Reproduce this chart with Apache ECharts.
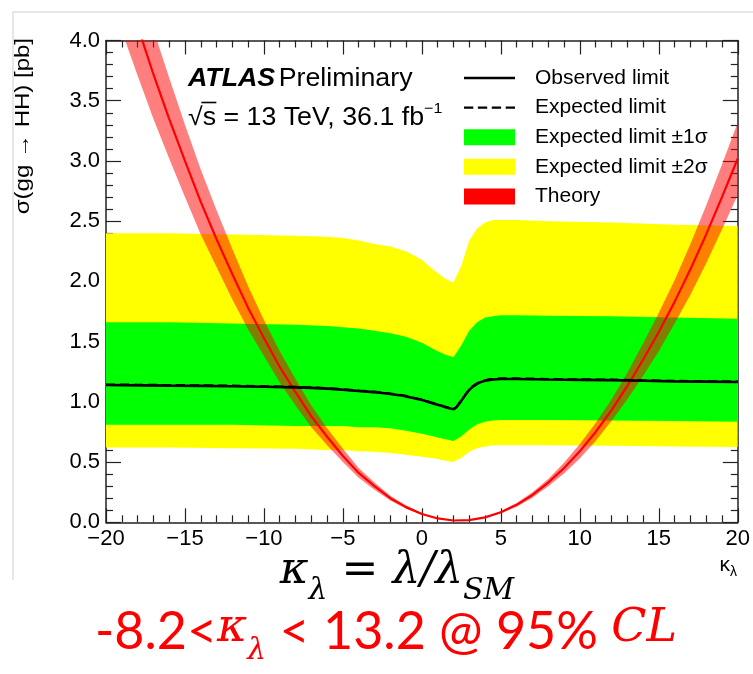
<!DOCTYPE html>
<html>
<head>
<meta charset="utf-8">
<script src="https://cdn.jsdelivr.net/npm/echarts@6/dist/echarts.min.js"></script>
<style>
  html, body { margin: 0; padding: 0; background: #ffffff; }
  #chart { width: 753px; height: 674px; }
</style>
</head>
<body>
<div id="chart"></div>
<script>
// kappa_lambda sampling points of the limit curves
const kappa = [-20, -16, -12, -8, -6, -5, -4, -3, -2, -1, 0, 0.5, 1, 1.5, 2, 2.5, 3, 3.5, 4, 4.5, 5, 6, 8, 12, 16, 20];
// 95% CL upper limits on sigma(gg -> HH) [pb]
const observed = [1.14, 1.135, 1.13, 1.12, 1.11, 1.10, 1.09, 1.08, 1.065, 1.045, 1.015, 0.995, 0.975, 0.955, 0.94, 1.01, 1.10, 1.15, 1.175, 1.185, 1.19, 1.19, 1.185, 1.18, 1.17, 1.165];
const expected = [1.145, 1.14, 1.135, 1.125, 1.115, 1.105, 1.095, 1.085, 1.07, 1.05, 1.02, 1.0, 0.98, 0.96, 0.945, 1.015, 1.105, 1.155, 1.18, 1.19, 1.195, 1.195, 1.19, 1.185, 1.175, 1.17];
const band1Up = [1.66, 1.66, 1.65, 1.64, 1.63, 1.62, 1.61, 1.59, 1.57, 1.54, 1.49, 1.455, 1.42, 1.39, 1.37, 1.47, 1.59, 1.66, 1.70, 1.71, 1.72, 1.72, 1.715, 1.71, 1.70, 1.69];
const band1Lo = [0.81, 0.81, 0.81, 0.80, 0.80, 0.80, 0.79, 0.79, 0.78, 0.76, 0.735, 0.72, 0.705, 0.69, 0.675, 0.715, 0.77, 0.815, 0.835, 0.845, 0.85, 0.85, 0.85, 0.845, 0.84, 0.835];
const band2Up = [2.40, 2.40, 2.39, 2.38, 2.37, 2.36, 2.34, 2.31, 2.29, 2.25, 2.18, 2.12, 2.07, 2.02, 1.99, 2.13, 2.34, 2.44, 2.49, 2.51, 2.51, 2.51, 2.50, 2.49, 2.47, 2.46];
const band2Lo = [0.62, 0.62, 0.615, 0.61, 0.60, 0.60, 0.59, 0.585, 0.575, 0.56, 0.545, 0.535, 0.525, 0.51, 0.50, 0.535, 0.585, 0.615, 0.63, 0.64, 0.64, 0.64, 0.64, 0.635, 0.63, 0.625];

// theory prediction of sigma(gg -> HH) vs kappa_lambda, with its uncertainty band
const theoryKappa = [-20, -19, -18, -17, -16, -15, -14, -13, -12, -11, -10, -9, -8, -7, -6, -5, -4, -3, -2, -1, 0, 1, 2, 3, 4, 5, 6, 7, 8, 9, 10, 11, 12, 13, 14, 15, 16, 17, 18, 19, 20];
const theory = [4.96, 4.53, 4.12, 3.72, 3.35, 3.00, 2.66, 2.35, 2.06, 1.78, 1.53, 1.29, 1.08, 0.88, 0.71, 0.55, 0.41, 0.30, 0.20, 0.126, 0.069, 0.032, 0.015, 0.018, 0.041, 0.083, 0.145, 0.227, 0.33, 0.45, 0.59, 0.75, 0.93, 1.13, 1.35, 1.58, 1.83, 2.10, 2.39, 2.70, 3.02];
const theoryLo = [4.46, 4.08, 3.71, 3.35, 3.02, 2.70, 2.39, 2.12, 1.85, 1.60, 1.38, 1.16, 0.97, 0.79, 0.64, 0.50, 0.37, 0.27, 0.18, 0.113, 0.062, 0.029, 0.0135, 0.016, 0.037, 0.075, 0.13, 0.204, 0.30, 0.405, 0.53, 0.675, 0.84, 1.02, 1.215, 1.42, 1.65, 1.89, 2.15, 2.43, 2.72];
const theoryHi = [5.46, 4.98, 4.53, 4.09, 3.69, 3.30, 2.93, 2.59, 2.27, 1.96, 1.68, 1.42, 1.19, 0.97, 0.78, 0.61, 0.45, 0.33, 0.22, 0.139, 0.076, 0.035, 0.0165, 0.020, 0.045, 0.091, 0.16, 0.25, 0.36, 0.495, 0.65, 0.825, 1.02, 1.24, 1.485, 1.74, 2.01, 2.31, 2.63, 2.97, 3.32];

const FONT = 'Liberation Sans';
const AXIS_COLOR = '#222';

const chart = echarts.init(document.getElementById('chart'), null, { renderer: 'canvas' });

function pairs(xs, ys) { return xs.map((x, i) => [x, ys[i]]); }

// filled band between two curves, clipped to the plot frame
function bandSeries(name, xs, lo, hi, color, z) {
  return {
    name: name,
    type: 'custom',
    coordinateSystem: 'cartesian2d',
    clip: true,
    z: z,
    itemStyle: { color: color },
    data: [[xs[0], lo[0]]],
    encode: { x: 0, y: 1 },
    silent: true,
    renderItem: function (params, api) {
      const pts = [];
      for (let i = 0; i < xs.length; i++) pts.push(api.coord([xs[i], hi[i]]));
      for (let i = xs.length - 1; i >= 0; i--) pts.push(api.coord([xs[i], lo[i]]));
      const cs = params.coordSys;
      return {
        type: 'polygon',
        shape: { points: pts },
        style: { fill: api.visual('color') },
        clipPath: { type: 'rect', shape: { x: cs.x, y: cs.y, width: cs.width, height: cs.height } }
      };
    }
  };
}

const tickCommon = {
  axisLine: { show: true, onZero: false, lineStyle: { color: AXIS_COLOR, width: 1.5 } },
  splitLine: { show: false },
  minorSplitLine: { show: false }
};

const xTicks = {
  axisTick: { show: true, inside: true, length: 14, lineStyle: { color: AXIS_COLOR, width: 1.2 } },
  minorTick: { show: true, splitNumber: 5, length: 7, lineStyle: { color: AXIS_COLOR, width: 1.2 } }
};
const yTicks = {
  axisTick: { show: true, inside: true, length: 15, lineStyle: { color: AXIS_COLOR, width: 1.2 } },
  minorTick: { show: true, splitNumber: 5, length: 7, lineStyle: { color: AXIS_COLOR, width: 1.2 } }
};

// legend glyphs: a solid and a dashed line segment
const SOLID_ICON = 'path://M0,0H51V2.6H0Z';
const DASH_ICON = 'path://M0,0H9.3V2.2H0Z M13.9,0H23.2V2.2H13.9Z M27.8,0H37.1V2.2H27.8Z M41.7,0H51V2.2H41.7Z';

const option = {
  animation: false,
  backgroundColor: '#ffffff',
  grid: { left: 106, right: 14.5, top: 40.5, bottom: 151.7, containLabel: false },
  xAxis: [
    Object.assign({
      type: 'value', min: -20, max: 20, interval: 5, position: 'bottom',
      axisLabel: {
        fontFamily: FONT, fontSize: 22, color: '#000', margin: 6,
        formatter: v => (v < 0 ? '\u2212' + (-v) : String(v))
      }
    }, tickCommon, xTicks),
    Object.assign({
      type: 'value', min: -20, max: 20, interval: 5, position: 'top',
      axisLabel: { show: false }
    }, tickCommon, xTicks)
  ],
  yAxis: [
    Object.assign({
      type: 'value', min: 0, max: 4, interval: 0.5, position: 'left',
      axisLabel: {
        fontFamily: FONT, fontSize: 22, color: '#000', margin: 6,
        formatter: v => v.toFixed(1)
      }
    }, tickCommon, yTicks),
    Object.assign({
      type: 'value', min: 0, max: 4, interval: 0.5, position: 'right',
      axisLabel: { show: false }
    }, tickCommon, yTicks)
  ],
  legend: {
    orient: 'vertical', left: 464, top: 67.5, padding: 0,
    itemWidth: 51, itemHeight: 16, itemGap: 8.6,
    selectedMode: false,
    textStyle: { fontFamily: FONT, fontSize: 21, color: '#000', padding: [0, 0, 0, 15] },
    data: [
      { name: 'Observed limit', icon: SOLID_ICON, itemStyle: { color: '#000' } },
      { name: 'Expected limit', icon: DASH_ICON, itemStyle: { color: '#000' } },
      { name: 'Expected limit \u00b11\u03c3', icon: 'rect' },
      { name: 'Expected limit \u00b12\u03c3', icon: 'rect' },
      { name: 'Theory', icon: 'rect', itemStyle: { color: '#ff0000', opacity: 1 } }
    ]
  },
  series: [
    bandSeries('Expected limit \u00b12\u03c3', kappa, band2Lo, band2Up, '#ffff00', 1),
    bandSeries('Expected limit \u00b11\u03c3', kappa, band1Lo, band1Up, '#00ff00', 2),
    bandSeries('Theory', theoryKappa, theoryLo, theoryHi, 'rgba(255,0,0,0.5)', 3),
    {
      name: 'Theory', type: 'line', z: 4, data: pairs(theoryKappa, theory),
      symbol: 'none', showSymbol: false, smooth: false, clip: true, silent: true,
      lineStyle: { color: '#ff0000', width: 2.2 }, itemStyle: { color: '#ff0000' }
    },
    {
      name: 'Expected limit', type: 'line', z: 5, data: pairs(kappa, expected),
      symbol: 'none', showSymbol: false, smooth: 0.3, clip: true, silent: true,
      lineStyle: { color: '#000', width: 2, type: [9, 5] }, itemStyle: { color: '#000' }
    },
    {
      name: 'Observed limit', type: 'line', z: 6, data: pairs(kappa, observed),
      symbol: 'none', showSymbol: false, smooth: 0.3, clip: true, silent: true,
      lineStyle: { color: '#000', width: 2.6 }, itemStyle: { color: '#000' }
    }
  ],
  graphic: [
    // thin frame of the figure panel
    { type: 'line', shape: { x1: 13, y1: 12, x2: 753, y2: 12 }, style: { stroke: '#cfcfcf', lineWidth: 1 }, silent: true },
    { type: 'line', shape: { x1: 13, y1: 12, x2: 13, y2: 580 }, style: { stroke: '#cfcfcf', lineWidth: 1 }, silent: true },
    // y axis title
    {
      type: 'text', x: 23, y: 38, rotation: Math.PI / 2, scaleX: 1.2, silent: true,
      style: { text: '\u03c3(gg \u2192 HH) [pb]', fontFamily: FONT, fontSize: 20, fill: '#000', align: 'right', verticalAlign: 'middle' }
    },
    // x axis title
    {
      type: 'text', x: 737, y: 567, silent: true,
      style: {
        text: '{m|\u03ba}{s|\u03bb}', align: 'right', verticalAlign: 'middle',
        rich: {
          m: { fontFamily: FONT, fontSize: 21, fill: '#000', lineHeight: 24, verticalAlign: 'top' },
          s: { fontFamily: FONT, fontSize: 14, fill: '#000', lineHeight: 24, verticalAlign: 'bottom' }
        }
      }
    },
    // experiment label
    {
      type: 'group', x: 188, y: 0, scaleX: 1.07, silent: true,
      children: [
        {
          type: 'text', x: 0, y: 79,
          style: {
            text: '{a|ATLAS} {b|Preliminary}', verticalAlign: 'middle',
            rich: {
              a: { fontFamily: FONT, fontSize: 25, fontWeight: 'bold', fontStyle: 'italic', fill: '#000' },
              b: { fontFamily: FONT, fontSize: 25, fill: '#000' }
            }
          }
        },
        {
          type: 'text', x: 0, y: 116,
          style: {
            text: '{b|\u221as = 13 TeV, 36.1 fb}{p|\u22121}', verticalAlign: 'middle',
            rich: {
              b: { fontFamily: FONT, fontSize: 25, fill: '#000', lineHeight: 30, verticalAlign: 'bottom' },
              p: { fontFamily: FONT, fontSize: 15, fill: '#000', lineHeight: 30, verticalAlign: 'top' }
            }
          }
        },
        // bar of the square-root sign
        { type: 'line', shape: { x1: 12.5, y1: 102.5, x2: 26.5, y2: 102.5 }, style: { stroke: '#000', lineWidth: 1.6 } }
      ]
    },
    // definition of the coupling modifier
    {
      type: 'text', x: 397, y: 578, silent: true,
      style: {
        text: '{k|\u03ba}{s|\u03bb}{n| = }{k|\u03bb/\u03bb}{s|SM}', align: 'center', verticalAlign: 'middle',
        rich: {
          k: { fontFamily: 'DejaVu Serif', fontStyle: 'italic', fontSize: 44, fill: '#000', lineHeight: 56, verticalAlign: 'top' },
          n: { fontFamily: 'DejaVu Serif', fontSize: 44, fill: '#000', lineHeight: 56, verticalAlign: 'top' },
          s: { fontFamily: 'DejaVu Serif', fontStyle: 'italic', fontSize: 30, fill: '#000', lineHeight: 56, verticalAlign: 'bottom' }
        }
      }
    },
    // resulting 95% CL interval
    {
      type: 'text', x: 386, y: 636, silent: true,
      style: {
        text: '{c|-8.2<}{k|\u03ba}{s|\u03bb}{c| < 13.2 @ 95% }{k|CL}', align: 'center', verticalAlign: 'middle',
        rich: {
          c: { fontFamily: 'Lato', fontSize: 52, fill: '#ff0000', lineHeight: 60, verticalAlign: 'top' },
          k: { fontFamily: 'DejaVu Serif', fontStyle: 'italic', fontSize: 46, fill: '#ff0000', lineHeight: 60, verticalAlign: 'top' },
          s: { fontFamily: 'DejaVu Serif', fontStyle: 'italic', fontSize: 30, fill: '#ff0000', lineHeight: 60, verticalAlign: 'bottom' }
        }
      }
    }
  ]
};

chart.setOption(option);
</script>
</body>
</html>
